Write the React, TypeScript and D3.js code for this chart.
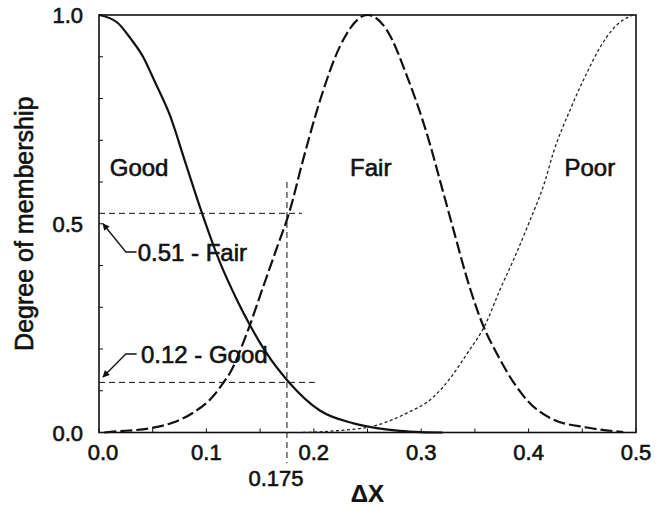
import React from 'react';
import * as d3 from 'd3';

// membership curves, [ΔX, degree]
const goodPoints: [number, number][] = [
  [0, 1], [0.017, 0.982], [0.029, 0.945], [0.041, 0.9], [0.052, 0.84], [0.066, 0.76],
  [0.08, 0.65], [0.094, 0.54], [0.113, 0.405], [0.128, 0.32], [0.141, 0.255], [0.156, 0.19],
  [0.177, 0.12], [0.206, 0.052], [0.237, 0.022], [0.26, 0.01], [0.28, 0.004], [0.3, 0.001], [0.32, 0],
];
const fairPoints: [number, number][] = [
  [0.005, 0], [0.013, 0.002], [0.047, 0.01], [0.069, 0.024], [0.088, 0.048], [0.106, 0.086],
  [0.116, 0.12], [0.122, 0.143], [0.138, 0.24], [0.153, 0.35], [0.166, 0.445], [0.177, 0.526],
  [0.19, 0.653], [0.206, 0.797], [0.224, 0.923], [0.25, 1], [0.268, 0.964], [0.287, 0.852],
  [0.305, 0.718], [0.32, 0.58], [0.33, 0.486], [0.345, 0.349], [0.358, 0.254], [0.37, 0.191],
  [0.386, 0.12], [0.398, 0.079], [0.423, 0.031], [0.454, 0.012], [0.488, 0.001],
];
const poorPoints: [number, number][] = [
  [0.19, 0], [0.22, 0.004], [0.255, 0.015], [0.287, 0.047], [0.311, 0.084], [0.327, 0.13],
  [0.343, 0.19], [0.36, 0.26], [0.373, 0.34], [0.386, 0.414], [0.4, 0.5], [0.415, 0.6],
  [0.423, 0.67], [0.439, 0.775], [0.454, 0.86], [0.466, 0.92], [0.479, 0.968], [0.497, 1],
];

const xTicks = [0, 0.1, 0.2, 0.3, 0.4, 0.5];
const xMinorTicks = [0.05, 0.15, 0.25, 0.35, 0.45];
const yTicks = [0, 0.1, 0.2, 0.3, 0.4, 0.5, 0.6, 0.7, 0.8, 0.9, 1];
const yTickLabels = [0, 0.5, 1];

const regionLabels = ['Good', 'Fair', 'Poor'];
const regionX = [0.01, 0.253, 0.457];
const regionY = 0.615;

// reading at ΔX = 0.175
const readX = 0.175;
const fairLevel = 0.525;
const goodLevel = 0.12;
const notes = ['0.51 - Fair', '0.12 - Good'];

const W = 656;
const H = 507;
const font = '"Liberation Sans", Arial, Helvetica, sans-serif';

export default function App() {
  const x = d3.scaleLinear().domain([0, 0.5]).range([99, 636]);
  const y = d3.scaleLinear().domain([0, 1]).range([432.5, 15]);

  const line = d3.line<[number, number]>()
    .x(d => x(d[0]))
    .y(d => y(d[1]))
    .curve(d3.curveMonotoneX);

  const txt = { fontFamily: font, fill: '#111', stroke: '#111', strokeWidth: 0.6 };

  // leader geometry for the two annotations
  const arrow = (tipY: number, textY: number) => {
    const tx = x(0.0037), ty = y(tipY);
    const by = textY - 9;
    const bx = x(0.025);
    return `M${x(0.035)},${by}L${bx},${by}L${tx},${ty}`;
  };
  const fairTextY = 261;
  const goodTextY = 363;

  return (
    <svg width={W} height={H} style={{ position: 'absolute', left: 0, top: 0, background: '#fff' }}>
      <defs>
        <marker id="ah" viewBox="0 0 10 10" refX="9" refY="5" markerWidth="10" markerHeight="7"
          markerUnits="userSpaceOnUse" orient="auto">
          <path d="M0,0L10,5L0,10z" fill="#111" />
        </marker>
      </defs>

      {/* frame */}
      <rect x={x(0)} y={y(1)} width={x(0.5) - x(0)} height={y(0) - y(1)}
        fill="none" stroke="#111" strokeWidth={1.6} />

      {/* ticks */}
      {yTicks.map(t => (
        <line key={'yt' + t} x1={x(0)} x2={x(0) + 4} y1={y(t)} y2={y(t)} stroke="#111" strokeWidth={1} />
      ))}
      {xTicks.concat(xMinorTicks).map(t => (
        <line key={'xt' + t} x1={x(t)} x2={x(t)} y1={y(0)} y2={y(0) - 4} stroke="#111" strokeWidth={1} />
      ))}

      {/* tick labels */}
      {yTickLabels.map(t => (
        <text key={'yl' + t} x={x(0) - 16} y={y(t) + 8} textAnchor="end" fontSize={22} {...txt}>
          {t.toFixed(1)}
        </text>
      ))}
      {xTicks.map(t => (
        <text key={'xl' + t} x={x(t) + (t === 0 ? 4 : 0)} y={460} textAnchor="middle" fontSize={22} {...txt}>
          {t.toFixed(1)}
        </text>
      ))}
      <text x={x(readX) - 11} y={486} textAnchor="middle" fontSize={22} {...txt}>{readX}</text>

      {/* axis titles */}
      <text x={x(0.25)} y={502} textAnchor="middle" fontSize={24} fontWeight="bold" {...txt} strokeWidth={0.2}>ΔX</text>
      <text transform={`translate(33,${(y(0) + y(1)) / 2}) rotate(-90)`} textAnchor="middle" fontSize={25} {...txt}>
        Degree of membership
      </text>

      {/* guide lines */}
      <g stroke="#111" strokeWidth={1} strokeDasharray="6,4" fill="none">
        <line x1={x(0)} x2={x(0.189)} y1={y(fairLevel)} y2={y(fairLevel)} />
        <line x1={x(0)} x2={x(0.201)} y1={y(goodLevel)} y2={y(goodLevel)} />
        <line x1={x(readX)} x2={x(readX)} y1={y(0.6)} y2={463} />
      </g>

      {/* curves */}
      <path d={line(goodPoints) || ''} fill="none" stroke="#111" strokeWidth={2.2} />
      <path d={line(fairPoints) || ''} fill="none" stroke="#111" strokeWidth={2.2} strokeDasharray="12,4" />
      <path d={line(poorPoints) || ''} fill="none" stroke="#222" strokeWidth={1.3} strokeDasharray="3,2.5" />

      {/* region labels */}
      {regionLabels.map((l, i) => (
        <text key={l} x={x(regionX[i])} y={y(regionY)} textAnchor={i === 0 ? 'start' : 'middle'}
          fontSize={24} {...txt}>{l}</text>
      ))}

      {/* annotations */}
      <path d={arrow(0.5, fairTextY)} fill="none" stroke="#111" strokeWidth={1.3} markerEnd="url(#ah)" />
      <path d={arrow(0.133, goodTextY)} fill="none" stroke="#111" strokeWidth={1.3} markerEnd="url(#ah)" />
      <text x={x(0.036)} y={fairTextY} fontSize={24} {...txt}>{notes[0]}</text>
      <text x={x(0.039)} y={goodTextY} fontSize={24} {...txt}>{notes[1]}</text>
    </svg>
  );
}
